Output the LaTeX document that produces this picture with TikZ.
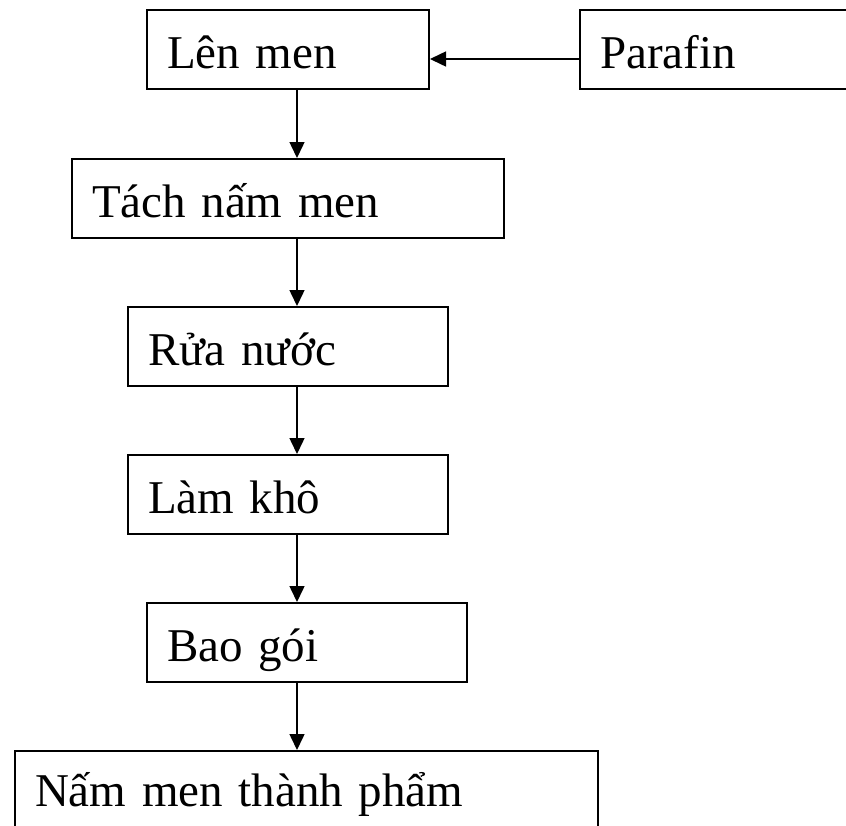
\documentclass[tikz,border=0pt]{standalone}
\usepackage{fontspec}
\setmainfont{Liberation Serif}
\usetikzlibrary{arrows.meta}

\tikzset{
  flowbox/.style={draw, line width=2pt, rectangle, anchor=north west,
    minimum height=79pt, inner xsep=20pt, inner ysep=0pt,
    text height=37pt, text depth=0pt, align=left,
    font=\fontsize{47}{52}\selectfont},
  flowarrow/.style={line width=1.5pt, -{Triangle[length=16pt,width=15pt]}}
}

\begin{document}
\begin{tikzpicture}[x=1pt,y=-1pt]
  \useasboundingbox (0,0) rectangle (846,825);

  % process steps
  \node[flowbox, text width=242pt] (lenmen)  at (146,9)   {Lên men};
  \node[flowbox, text width=251pt] (parafin) at (579,9)   {Parafin};
  \node[flowbox, text width=392pt] (tach)    at (71,158)  {Tách nấm men};
  \node[flowbox, text width=280pt] (rua)     at (127,306) {Rửa nước};
  \node[flowbox, text width=280pt] (lamkho)  at (127,454) {Làm khô};
  \node[flowbox, text width=280pt] (baogoi)  at (146,602) {Bao gói};
  \node[flowbox, text width=543pt, text height=31pt] (thanhpham) at (14,750) {Nấm men thành phẩm};

  % vertical flow axis and the feed line height
  \coordinate (axis) at (297,0);
  \coordinate (feed) at (0,59);

  \draw[flowarrow] (parafin.west |- feed) -- (lenmen.east |- feed);
  \draw[flowarrow] (lenmen.south -| axis) -- (tach.north -| axis);
  \draw[flowarrow] (tach.south -| axis)   -- (rua.north -| axis);
  \draw[flowarrow] (rua.south -| axis)    -- (lamkho.north -| axis);
  \draw[flowarrow] (lamkho.south -| axis) -- (baogoi.north -| axis);
  \draw[flowarrow] (baogoi.south -| axis) -- (thanhpham.north -| axis);
\end{tikzpicture}
\end{document}
